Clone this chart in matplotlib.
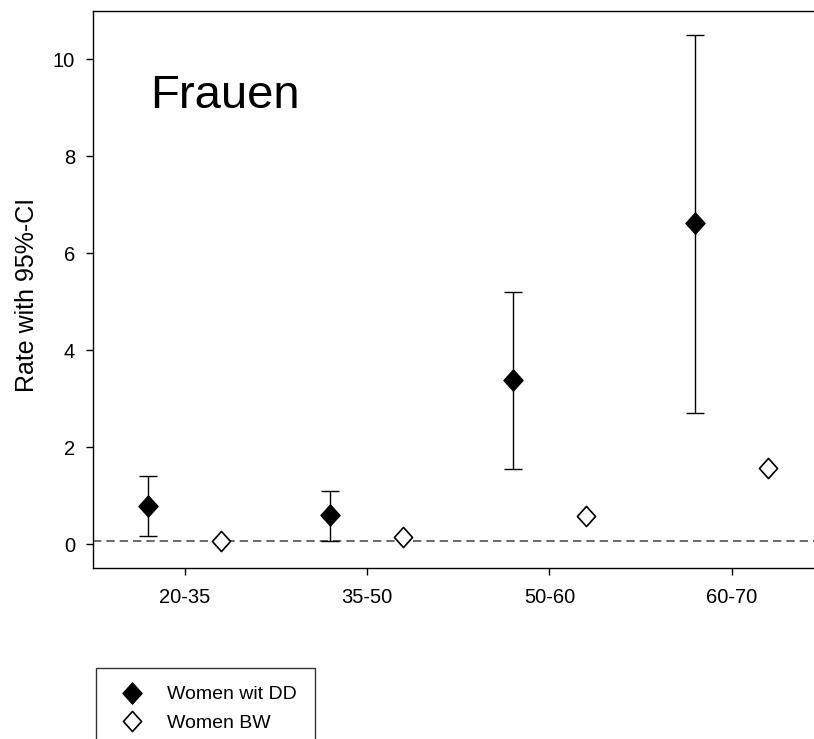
import numpy as np
import matplotlib
matplotlib.use("Agg")
import matplotlib.pyplot as plt
from matplotlib.path import Path

plt.rcParams['font.family'] = ['Liberation Sans', 'DejaVu Sans']

# data
groups = ['20-35', '35-50', '50-60', '60-70']
dd_rate = [0.78, 0.59, 3.38, 6.62]
dd_low = [0.16, 0.07, 1.55, 2.70]
dd_high = [1.41, 1.10, 5.20, 10.51]
bw_rate = [0.07, 0.15, 0.57, 1.57]
ref_level = 0.06

x = np.arange(1, len(groups) + 1)
dd_rate = np.array(dd_rate)
yerr = [dd_rate - np.array(dd_low), np.array(dd_high) - dd_rate]

# slightly tall diamond like the original
diamond = Path([(0, 1), (0.9, 0), (0, -1), (-0.9, 0), (0, 1)],
               [Path.MOVETO, Path.LINETO, Path.LINETO, Path.LINETO, Path.CLOSEPOLY])

fig = plt.figure(figsize=(8.14, 7.39), dpi=100)
ax = fig.add_axes([0.1146, 0.2310, 1.0 - 0.1146, 0.9851 - 0.2310])

ax.axhline(ref_level, color='#505050', lw=1.2, ls=(0, (5, 3)), zorder=1)

ax.errorbar(x - 0.2, dd_rate, yerr=yerr, fmt='none', ecolor='black',
            elinewidth=1.0, capsize=6.5, capthick=1.0, zorder=2)
ax.plot(x - 0.2, dd_rate, ls='none', marker=diamond, ms=15.5,
        mfc='black', mec='black', mew=0.8, zorder=3, label='Women wit DD')
ax.plot(x + 0.2, bw_rate, ls='none', marker=diamond, ms=14.5,
        mfc='white', mec='black', mew=1.2, zorder=3, label='Women BW')

ax.text(0.81, 9.0, 'Frauen', fontsize=34, va='baseline', ha='left')

ax.set_xlim(0.5, 4.45)
ax.set_ylim(-0.5, 11.0)
ax.set_xticks(x)
ax.set_xticklabels(groups)
ax.set_yticks([0, 2, 4, 6, 8, 10])
ax.tick_params(axis='both', labelsize=14.5, length=5, width=1.0, direction='out')
ax.tick_params(axis='x', pad=9)
ax.tick_params(axis='y', pad=8)
ax.spines['right'].set_visible(False)
for s in ['left', 'top', 'bottom']:
    ax.spines[s].set_linewidth(1.0)

ax.set_ylabel('Rate with 95%-CI', fontsize=18)
ax.yaxis.set_label_coords(-0.076, 0.49)

leg = fig.legend(loc='upper left', bbox_to_anchor=(95.7 / 814, 1 - 668.3 / 739),
                 fontsize=14, frameon=True, fancybox=False, borderpad=0.9,
                 handlelength=1.9, handletextpad=0.89, labelspacing=0.58,
                 borderaxespad=0)
leg.get_frame().set_edgecolor('black')
leg.get_frame().set_linewidth(1.0)

fig.savefig('out.png', dpi=100)
